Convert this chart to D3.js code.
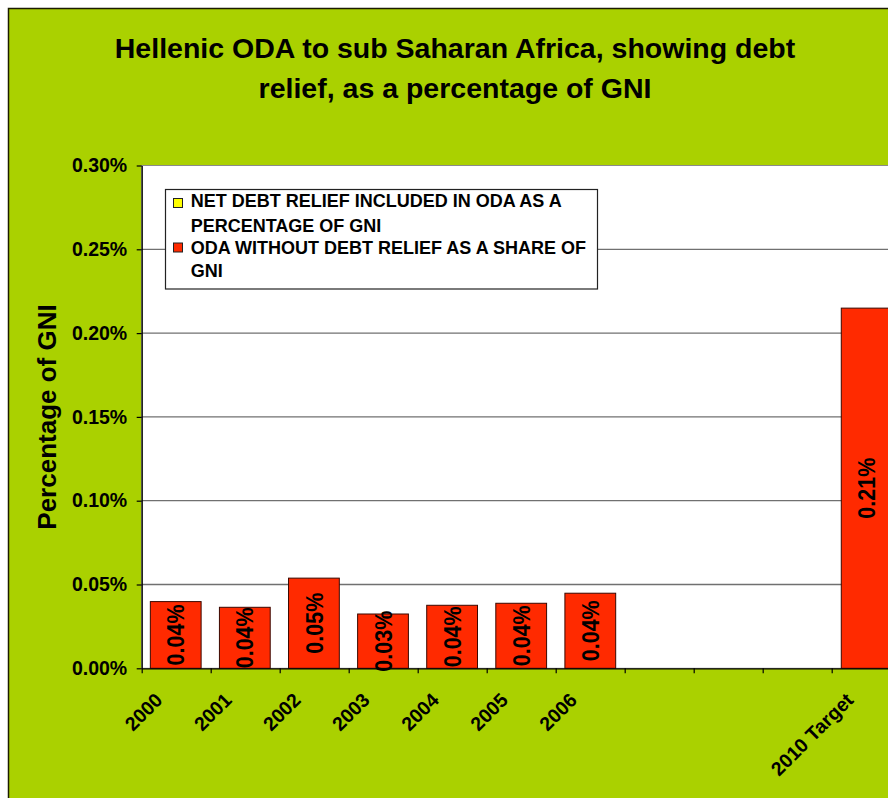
<!DOCTYPE html>
<html>
<head>
<meta charset="utf-8">
<script src="https://cdn.jsdelivr.net/npm/d3@7"></script>
<style>
  html, body { margin: 0; padding: 0; background: #ffffff; }
  svg { display: block; font-family: "Liberation Sans", Arial, sans-serif; }
</style>
</head>
<body>
<svg id="chart" width="888" height="798"></svg>
<script>
// Category labels (three unlabelled years between 2006 and the 2010 target)
const categories = ["2000", "2001", "2002", "2003", "2004", "2005", "2006", "", "", "", "2010 Target"];
// ODA without debt relief, % of GNI
const odaWithoutDebtRelief = [0.0398, 0.0364, 0.0538, 0.0324, 0.0376, 0.0388, 0.0448, null, null, null, 0.2149];
// Net debt relief included in ODA, % of GNI
const netDebtRelief = [0, 0, 0, 0, 0, 0, 0, null, null, null, 0];
// Y axis ticks (% of GNI)
const yTicks = [0, 0.05, 0.10, 0.15, 0.20, 0.25, 0.30];

const titleLines = ["Hellenic ODA to sub Saharan Africa, showing debt", "relief, as a percentage of GNI"];
const yTitle = "Percentage of GNI";
const legendItems = [
  { lines: ["NET DEBT RELIEF INCLUDED IN ODA AS A", "PERCENTAGE OF GNI"], color: "#FFFF00" },
  { lines: ["ODA WITHOUT DEBT RELIEF AS A SHARE OF", "GNI"], color: "#FF2A00" }
];

const GREEN = "#AAD100";
const RED = "#FF2A00";

const svg = d3.select("#chart");

// Chart area background and border
svg.append("rect")
  .attr("x", 8.5).attr("y", 8.5)
  .attr("width", 1000).attr("height", 1000)
  .attr("fill", GREEN)
  .attr("stroke", "#1c1c00").attr("stroke-width", 1.5);

// Plot geometry
const plotLeft = 141.7, plotTop = 165.5, plotBottom = 668.3;
const plotRight = plotLeft + categories.length * 69.0;

const x = d3.scaleBand()
  .domain(d3.range(categories.length))
  .range([plotLeft, plotRight])
  .paddingInner(0.265)
  .paddingOuter(0.125);

const y = d3.scaleLinear().domain([0, 0.30]).range([plotBottom, plotTop]);

// Plot area
svg.append("rect")
  .attr("x", plotLeft).attr("y", y(0.30))
  .attr("width", plotRight - plotLeft).attr("height", plotBottom - y(0.30))
  .attr("fill", "#ffffff")
  .attr("stroke", "#8a8a8a").attr("stroke-width", 1);

// Gridlines
svg.append("g")
  .selectAll("line")
  .data(yTicks.filter(t => t > 0 && t < 0.30))
  .join("line")
  .attr("x1", plotLeft).attr("x2", plotRight)
  .attr("y1", d => y(d)).attr("y2", d => y(d))
  .attr("stroke", "#707070").attr("stroke-width", 1.3);

// Title
svg.append("g")
  .selectAll("text")
  .data(titleLines)
  .join("text")
  .attr("x", 455)
  .attr("y", (d, i) => 57.5 + i * 40.5)
  .attr("text-anchor", "middle")
  .attr("font-size", 28.5)
  .attr("font-weight", "bold")
  .attr("fill", "#000")
  .text(d => d);

// Y axis title
svg.append("text")
  .attr("transform", "translate(56,417) rotate(-90)")
  .attr("text-anchor", "middle")
  .attr("font-size", 26)
  .attr("font-weight", "bold")
  .attr("fill", "#000")
  .text(yTitle);

// Stacked bars
const rows = categories.map((c, i) => ({
  i,
  oda: odaWithoutDebtRelief[i],
  debt: netDebtRelief[i]
}));
const stack = d3.stack().keys(["oda", "debt"]).value((d, k) => d[k] == null ? 0 : d[k]);
const series = stack(rows);
const seriesColor = { oda: RED, debt: "#FFFF00" };

svg.append("g")
  .selectAll("g")
  .data(series)
  .join("g")
  .attr("fill", s => seriesColor[s.key])
  .selectAll("rect")
  .data(s => s.filter(d => d[1] - d[0] > 0))
  .join("rect")
  .attr("x", d => x(d.data.i))
  .attr("width", x.bandwidth())
  .attr("y", d => y(d[1]))
  .attr("height", d => y(d[0]) - y(d[1]))
  .attr("stroke", "#3a0800")
  .attr("stroke-width", 1);

// Value labels inside the ODA bars
const fmt = v => d3.format(".2f")(v) + "%";
svg.append("g")
  .selectAll("text")
  .data(rows.filter(d => d.oda != null))
  .join("text")
  .attr("transform", d => `translate(${x(d.i) + x.bandwidth() / 2},${(y(0) + y(d.oda)) / 2}) rotate(-90)`)
  .attr("text-anchor", "middle")
  .attr("dy", "0.36em")
  .attr("font-size", 24)
  .attr("font-weight", "bold")
  .attr("fill", "#000")
  .attr("textLength", 61)
  .attr("lengthAdjust", "spacingAndGlyphs")
  .text(d => fmt(d.oda));

// Y axis
const yAxis = svg.append("g")
  .attr("transform", `translate(${plotLeft},0)`)
  .call(d3.axisLeft(y).tickValues(yTicks).tickFormat(d => d3.format(".2f")(d) + "%")
    .tickSize(5).tickSizeOuter(0).tickPadding(9.5));
yAxis.select(".domain").attr("stroke", "#000").attr("stroke-width", 1.3);
yAxis.selectAll(".tick line").attr("stroke", "#000").attr("stroke-width", 1.2);
yAxis.selectAll(".tick text")
  .attr("font-family", "Liberation Sans, Arial, sans-serif")
  .attr("font-size", 19.5)
  .attr("font-weight", "bold")
  .attr("fill", "#000");

// X axis: ticks on category boundaries
const xb = d3.scaleLinear().domain([0, categories.length]).range([plotLeft, plotRight]);
const xAxis = svg.append("g")
  .attr("transform", `translate(0,${plotBottom})`)
  .call(d3.axisBottom(xb).tickValues(d3.range(categories.length + 1)).tickFormat("")
    .tickSize(5).tickSizeOuter(0));
xAxis.select(".domain").attr("stroke", "#000").attr("stroke-width", 1.3);
xAxis.selectAll(".tick line").attr("stroke", "#000").attr("stroke-width", 1.2);

// Category labels, rotated
svg.append("g")
  .selectAll("text")
  .data(categories.map((c, i) => ({ c, i })).filter(d => d.c !== ""))
  .join("text")
  .attr("transform", d => `translate(${x(d.i) + x.bandwidth() / 2 - 12},${plotBottom + 33}) rotate(-45)`)
  .attr("text-anchor", "end")
  .attr("font-size", 19.5)
  .attr("font-weight", "bold")
  .attr("fill", "#000")
  .text(d => d.c);

// Legend
const legend = svg.append("g");
legend.append("rect")
  .attr("x", 165.5).attr("y", 189.5)
  .attr("width", 432).attr("height", 99.5)
  .attr("fill", "#ffffff")
  .attr("stroke", "#222").attr("stroke-width", 1.2);

const legendRowY = [198.5, 243];
const lineBaselines = [[206.7, 231.7], [254, 277]];
legendItems.forEach((item, k) => {
  legend.append("rect")
    .attr("x", 173.5).attr("y", legendRowY[k])
    .attr("width", 9).attr("height", 9)
    .attr("fill", item.color)
    .attr("stroke", "#222").attr("stroke-width", 1);
  item.lines.forEach((ln, j) => {
    legend.append("text")
      .attr("x", 190.7).attr("y", lineBaselines[k][j])
      .attr("font-size", 18)
      .attr("font-weight", "bold")
      .attr("fill", "#000")
      .text(ln);
  });
});
</script>
</body>
</html>
